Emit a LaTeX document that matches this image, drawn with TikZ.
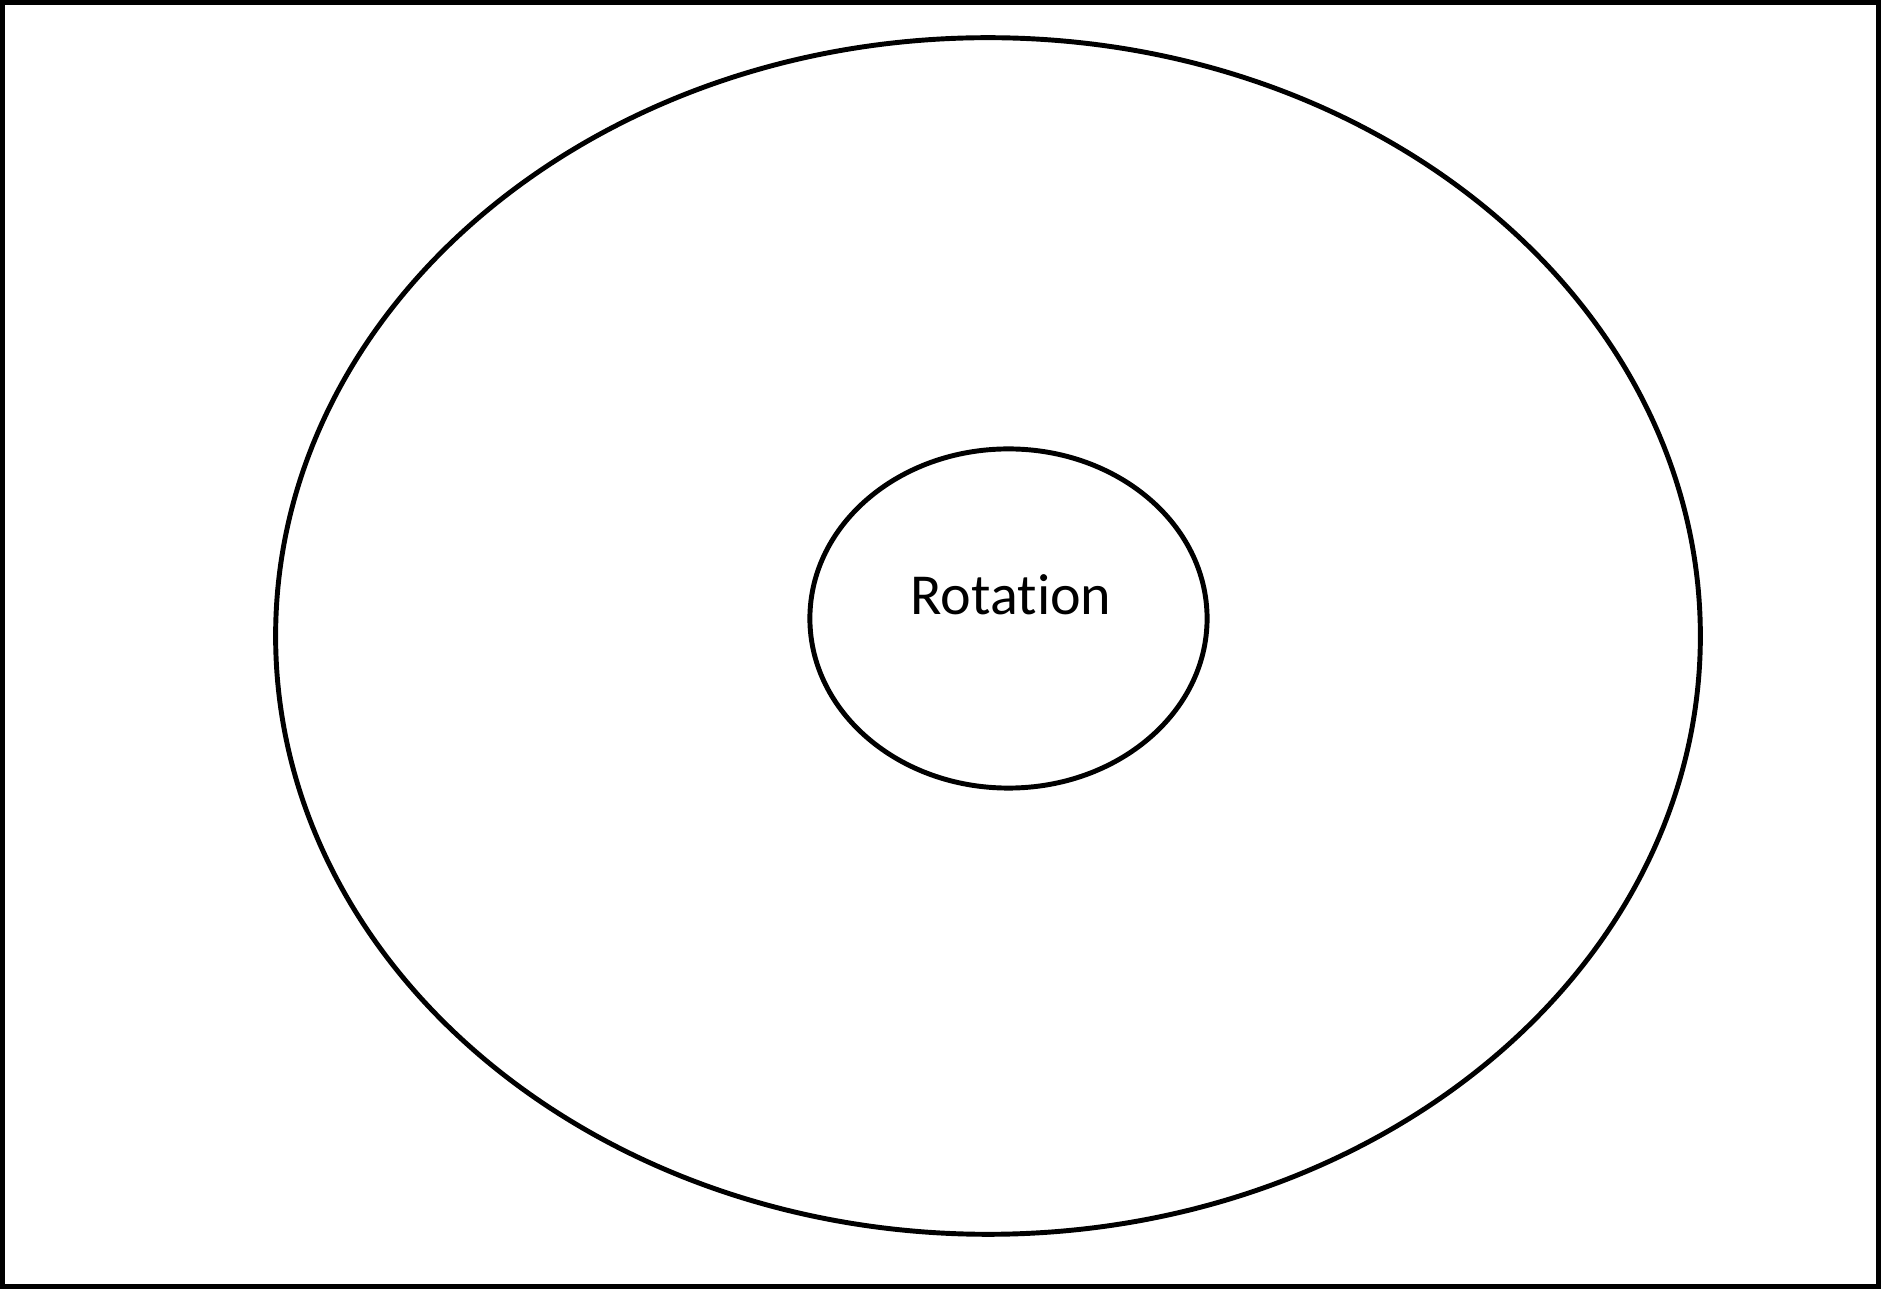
\documentclass[tikz,border=0pt]{standalone}
\usepackage{fontspec}
\setmainfont[Ligatures=NoCommon]{Carlito}
\usetikzlibrary{shapes.geometric,positioning}

\begin{document}
\begin{tikzpicture}[x=0.01cm,y=0.01cm]
  \tikzset{ring/.style={draw,ellipse,line width=1.4pt,inner sep=0pt}}
  % frame
  \draw[line width=1.45pt] (2.5,2.5) rectangle (1878.5,1286.5);
  \useasboundingbox (0,0) rectangle (1881,1289);
  \node[ring,minimum width=14.24cm,minimum height=11.96cm] (outer) at (988,653) {};
  \node[ring,minimum width=3.97cm,minimum height=3.39cm] (inner) at (1008.5,670.5) {};
  \node[font=\fontsize{16.5}{19}\selectfont,inner sep=0pt] (label) at (1011,694) {Rotation};
\end{tikzpicture}
\end{document}
